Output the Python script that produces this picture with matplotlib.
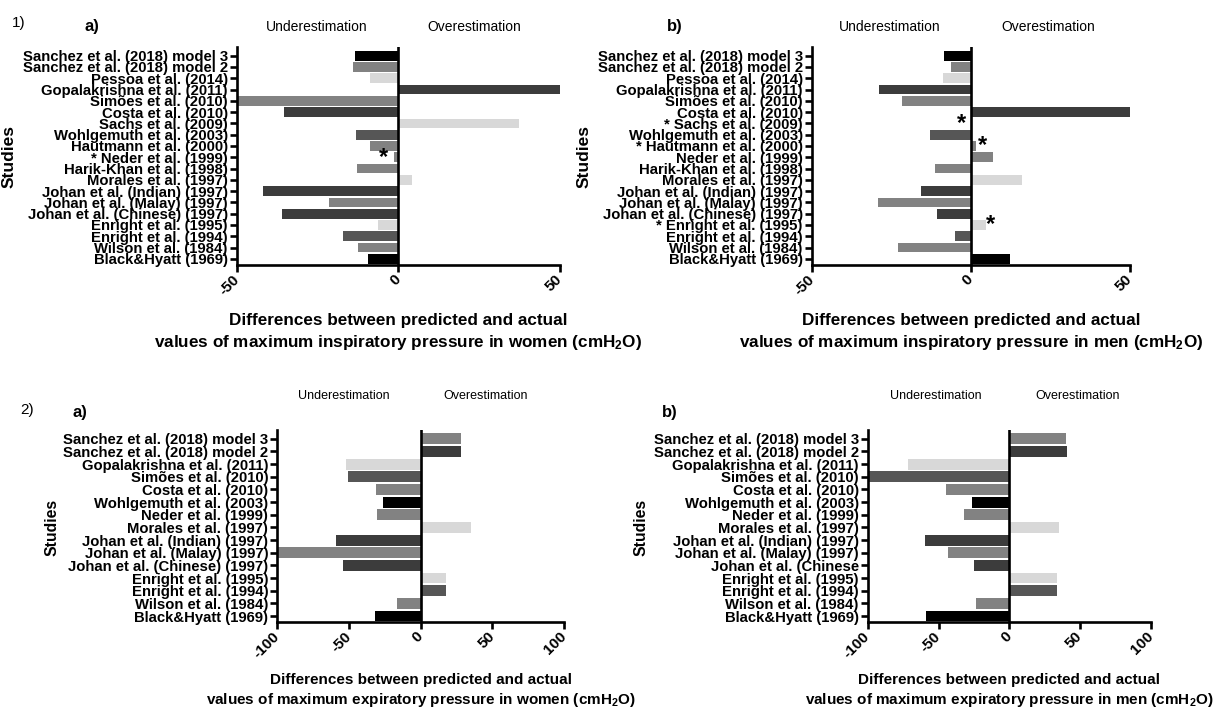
"""plot.py — Predicted vs actual MIP / MEP differences per study (4 panels)."""

import matplotlib
matplotlib.use('Agg')
import matplotlib.pyplot as plt

# ── Data ──────────────────────────────────────────────────────────────────────
# colours used by the original figure
BLK = '#000000'
DRK = '#3c3c3c'
MDK = '#565656'
MED = '#828282'
LGT = '#d8d8d8'

# Panel 1: maximum inspiratory pressure (top to bottom)
studies_mip = [
    "Sanchez et al. (2018) model 3", "Sanchez et al. (2018) model 2",
    "Pessoa et al. (2014)", "Gopalakrishna et al. (2011)",
    "Simões et al. (2010)", "Costa et al. (2010)", "Sachs et al. (2009)",
    "Wohlgemuth et al. (2003)", "Hautmann et al. (2000)",
    "Neder et al. (1999)", "Harik-Khan et al. (1998)",
    "Morales et al. (1997)", "Johan et al. (Indian) (1997)",
    "Johan et al. (Malay) (1997)", "Johan et al. (Chinese) (1997)",
    "Enright et al. (1995)", "Enright et al. (1994)",
    "Wilson et al. (1984)", "Black&Hyatt (1969)",
]
colors_mip = [BLK, MED, LGT, DRK, MED, DRK, LGT, MDK, MED, MED, MED,
              LGT, DRK, MED, DRK, LGT, MDK, MED, BLK]
mip_women = [-13.4, -13.9, -8.8, 50, -50, -35.4, 37.3, -13.1, -8.8, -1.5,
             -12.9, 4.1, -42, -21.6, -36.1, -6.2, -17, -12.4, -9.3]
mip_men = [-8.5, -6.1, -8.7, -28.8, -21.5, 50, 0, -12.9, 1.6, 7.0,
           -11.3, 16.1, -15.8, -29.3, -10.6, 4.7, -5.0, -22.8, 12.2]
starred_women = ["Neder et al. (1999)"]
starred_men = ["Sachs et al. (2009)", "Hautmann et al. (2000)",
               "Enright et al. (1995)"]
# asterisk positions next to the bars (x value, study)
stars_women = [(-4.7, "Neder et al. (1999)")]
stars_men = [(-2.9, "Sachs et al. (2009)"), (3.7, "Hautmann et al. (2000)"),
             (6.2, "Enright et al. (1995)")]

# Panel 2: maximum expiratory pressure
studies_mep = [
    "Sanchez et al. (2018) model 3", "Sanchez et al. (2018) model 2",
    "Gopalakrishna et al. (2011)", "Simões et al. (2010)",
    "Costa et al. (2010)", "Wohlgemuth et al. (2003)",
    "Neder et al. (1999)", "Morales et al. (1997)",
    "Johan et al. (Indian) (1997)", "Johan et al. (Malay) (1997)",
    "Johan et al. (Chinese) (1997)", "Enright et al. (1995)",
    "Enright et al. (1994)", "Wilson et al. (1984)", "Black&Hyatt (1969)",
]
studies_mep_men = studies_mep[:10] + ["Johan et al. (Chinese"] + studies_mep[11:]
colors_mep = [MED, DRK, LGT, MDK, MED, BLK, MED, LGT, DRK, MED, DRK,
              LGT, MDK, MED, BLK]
mep_women = [28.1, 28.1, -52.1, -50.9, -31.2, -26.5, -30.5, 34.9, -59.1,
             -99.3, -54.4, 17.7, 17.7, -16.7, -31.6]
mep_men = [39.7, 40.8, -71.6, -100, -44.4, -26.3, -31.9, 35.4, -59.9,
           -43, -24.9, 33.3, 33.3, -23.7, -58.7]

W, H = 1215, 707

plt.rcParams['font.family'] = ['Liberation Sans', 'DejaVu Sans']
plt.rcParams['mathtext.fontset'] = 'custom'
plt.rcParams['mathtext.rm'] = 'Liberation Sans'
plt.rcParams['mathtext.bf'] = 'Liberation Sans:bold'


def px_axes(fig, left, top, right, bottom):
    return fig.add_axes([left / W, 1 - bottom / H, (right - left) / W,
                         (bottom - top) / H])


def ftext(fig, x, y, s, **kw):
    kw.setdefault('ha', 'center')
    kw.setdefault('va', 'center')
    fig.text(x / W, 1 - y / H, s, **kw)


def bar_panel(ax, labels, values, colors, xlim, xticks, ylim, starred=(),
              stars=(), fs=10.7):
    ys = list(range(len(labels)))
    ax.barh(ys, values, height=0.86, color=colors, zorder=2)
    ax.axvline(0, color='black', lw=1.9, zorder=3)
    for xs, name in stars:
        ax.text(xs, labels.index(name), '*', ha='center', va='center',
                fontsize=17, fontweight='bold', zorder=4)
    ticklabels = [('* ' + l if l in starred else l) for l in labels]
    ax.set_yticks(ys)
    ax.set_yticklabels(ticklabels, fontsize=fs, fontweight='bold')
    ax.set_ylim(*ylim)
    ax.set_xlim(*xlim)
    ax.set_xticks(xticks)
    ax.set_xticklabels([str(t) for t in xticks], rotation=45, ha='right',
                       va='center', rotation_mode='anchor', fontsize=11,
                       fontweight='bold')
    for side in ('top', 'right'):
        ax.spines[side].set_visible(False)
    for side in ('left', 'bottom'):
        ax.spines[side].set_linewidth(1.9)
    ax.tick_params(axis='both', length=5, width=1.9, pad=1.5)
    ax.tick_params(axis='x', pad=4)


fig = plt.figure(figsize=(W / 100, H / 100), dpi=100)

# ── 1) inspiratory ───────────────────────────────────────────────────────────
ax = px_axes(fig, 236.7, 47, 560, 265)
bar_panel(ax, studies_mip, mip_women, colors_mip, (-50, 50), [-50, 0, 50],
          (18.55, -0.77), starred_women, stars_women)
ax = px_axes(fig, 811.7, 47, 1130, 265)
bar_panel(ax, studies_mip, mip_men, colors_mip, (-50, 50), [-50, 0, 50],
          (18.55, -0.77), starred_men, stars_men)

# ── 2) expiratory ────────────────────────────────────────────────────────────
ax = px_axes(fig, 277.3, 430, 564, 622)
bar_panel(ax, studies_mep, mep_women, colors_mep, (-100, 100),
          [-100, -50, 0, 50, 100], (14.47, -0.69))
ax = px_axes(fig, 867.7, 430, 1151, 622)
bar_panel(ax, studies_mep_men, mep_men, colors_mep, (-100, 100),
          [-100, -50, 0, 50, 100], (14.47, -0.69))

# ── Annotations ──────────────────────────────────────────────────────────────
ftext(fig, 19, 23, "1)", fontsize=11)
ftext(fig, 26.8, 410, "2)", fontsize=11)
ftext(fig, 92, 26, "a)", fontsize=12, fontweight='bold')
ftext(fig, 674.5, 26, "b)", fontsize=12, fontweight='bold')
ftext(fig, 80.4, 413, "a)", fontsize=12, fontweight='bold')
ftext(fig, 669.8, 413, "b)", fontsize=12, fontweight='bold')

for x, y in [(317, 27), (890, 27)]:
    ftext(fig, x, y, "Underestimation", fontsize=10)
for x, y in [(474.5, 27), (1048.5, 27)]:
    ftext(fig, x, y, "Overestimation", fontsize=10)
for x, y in [(343.6, 396), (936, 396)]:
    ftext(fig, x, y, "Underestimation", fontsize=9)
for x, y in [(485.6, 396), (1078, 396)]:
    ftext(fig, x, y, "Overestimation", fontsize=9)

for x, y, fs in [(9, 157, 12.5), (583.6, 157, 12.5),
                 (51.7, 527, 11.3), (641, 527, 11.3)]:
    ftext(fig, x, y, "Studies", fontsize=fs, fontweight='bold', rotation=90)

line1 = "Differences between predicted and actual"
xlab = [
    (398.3, 320, 342, 12.3, "inspiratory", "women"),
    (971.0, 320, 342, 12.3, "inspiratory", "men"),
    (420.7, 680, 700, 11.0, "expiratory", "women"),
    (1009.3, 680, 700, 11.0, "expiratory", "men"),
]
for x, y1, y2, fs, kind, who in xlab:
    ftext(fig, x, y1, line1, fontsize=fs, fontweight='bold')
    ftext(fig, x, y2,
          f"values of maximum {kind} pressure in {who} (cmH$\\mathbf{{_2}}$O)",
          fontsize=fs, fontweight='bold')

fig.savefig('out.png', dpi=100)
